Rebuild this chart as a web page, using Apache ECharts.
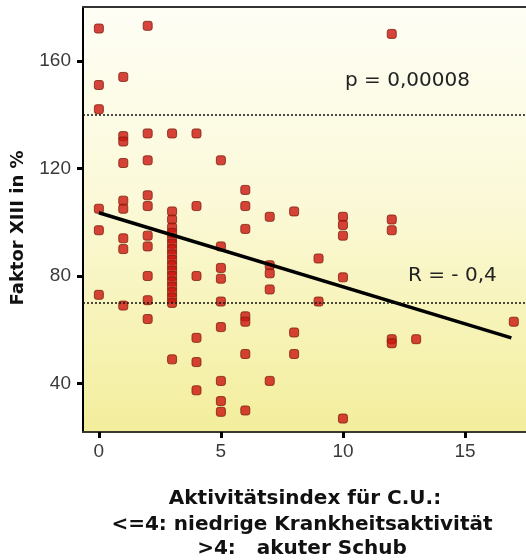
<!DOCTYPE html>
<html>
<head>
<meta charset="utf-8">
<script src="https://cdn.jsdelivr.net/npm/echarts@6/dist/echarts.min.js"></script>
<style>
  html, body { margin: 0; padding: 0; background: #ffffff; }
  #chart { width: 526px; height: 560px; }
</style>
</head>
<body>
<div id="chart"></div>
<script>
// Aktivitätsindex (C.U.) of each patient and the measured Faktor XIII activity in %
const activity = [
  0, 0, 0, 0, 0, 0,
  1, 1, 1, 1, 1, 1, 1, 1, 1,
  2, 2, 2, 2, 2, 2, 2, 2, 2, 2,
  3, 3, 3, 3, 3, 3, 3, 3, 3, 3, 3, 3, 3, 3, 3, 3, 3, 3, 3,
  4, 4, 4, 4, 4, 4,
  5, 5, 5, 5, 5, 5, 5, 5, 5,
  6, 6, 6, 6, 6, 6, 6,
  7, 7, 7, 7, 7,
  8, 8, 8,
  9, 9,
  10, 10, 10, 10, 10,
  12, 12, 12, 12, 12,
  13,
  17
];
const factor = [
  172, 151, 142, 105, 97, 73,
  154, 132, 130, 122, 108, 105, 94, 90, 69,
  173, 133, 123, 110, 106, 95, 91, 80, 71, 64,
  133, 104, 101, 98, 96, 94, 92, 90, 88, 86, 84, 82, 80, 78, 76, 74, 72, 70, 49,
  133, 106, 80, 57, 48, 37.5,
  123, 91, 83, 79, 70.5, 61, 41, 33.5, 29.5,
  112, 106, 97.5, 65, 63, 51, 30,
  102, 84, 81, 75, 41,
  104, 59, 51,
  86.5, 70.5,
  102, 99, 95, 79.5, 27,
  170, 101, 97, 56.5, 55,
  56.5,
  63
];

// Linear regression line (endpoints)
const fitActivity = [0, 16.9];
const fitFactor = [103.5, 57];

// Reference levels shown as dotted lines
const referenceLevels = [140, 70];

// Tick labels
const xTicks = [0, 5, 10, 15];
const yTicks = [40, 80, 120, 160];

const pLabel = 'p = 0,00008';
const rLabel = 'R = - 0,4';
const xTitleLines = ['Aktivitätsindex für C.U.:', '<=4: niedrige Krankheitsaktivität', '>4:   akuter Schub'];
const yTitle = 'Faktor XIII in %';

const chart = echarts.init(document.getElementById('chart'), null, { renderer: 'canvas' });

const points = activity.map((a, i) => [a, factor[i]]);
const fitLine = fitActivity.map((a, i) => [a, fitFactor[i]]);

const tickFont = { fontFamily: 'Liberation Sans, Arial, sans-serif', fontSize: 19, color: '#3a3a3a' };
const titleFont = 'DejaVu Sans, Verdana, sans-serif';

const option = {
  backgroundColor: '#ffffff',
  animation: false,
  grid: {
    left: 83, top: 7, right: 0, bottom: 128,
    show: true,
    borderWidth: 0,
    backgroundColor: new echarts.graphic.LinearGradient(0, 0, 0, 1, [
      { offset: 0, color: '#fefef6' },
      { offset: 0.45, color: '#fbf9d8' },
      { offset: 1, color: '#f3ee9c' }
    ])
  },
  xAxis: [{
    type: 'value',
    min: -0.65, max: 17.5,
    axisLine: { show: true, onZero: false, lineStyle: { color: '#3a3a2a', width: 2 } },
    axisTick: { show: true, length: 6, customValues: xTicks, lineStyle: { color: '#000', width: 3 } },
    axisLabel: Object.assign({ margin: 10, customValues: xTicks }, tickFont),
    splitLine: { show: false }
  }, {
    type: 'value',
    position: 'top',
    min: -0.65, max: 17.5,
    axisLine: { show: true, onZero: false, lineStyle: { color: '#333333', width: 2 } },
    axisTick: { show: false },
    axisLabel: { show: false },
    splitLine: { show: false }
  }],
  yAxis: {
    type: 'value',
    min: 22, max: 180,
    axisLine: { show: true, onZero: false, lineStyle: { color: '#000', width: 2 } },
    axisTick: { show: true, length: 6, customValues: yTicks, lineStyle: { color: '#000', width: 3 } },
    axisLabel: Object.assign({ margin: 12, customValues: yTicks }, tickFont),
    splitLine: { show: false }
  },
  series: [{
    type: 'scatter',
    data: points,
    symbol: 'roundRect',
    symbolSize: 9,
    itemStyle: { color: '#cc140e', borderColor: '#7a200e', borderWidth: 1 },
    markLine: {
      silent: true,
      symbol: 'none',
      label: { show: false },
      lineStyle: { color: '#111', type: [2, 2], width: 1.5 },
      data: referenceLevels.map(v => ({ yAxis: v }))
    },
    z: 3
  }, {
    type: 'line',
    data: fitLine,
    symbol: 'none',
    lineStyle: { color: '#000', width: 3.5 },
    z: 4
  }],
  graphic: [
    {
      type: 'text', left: 345, top: 71,
      style: { text: pLabel, fontFamily: titleFont, fontSize: 20, fill: '#222' }
    },
    {
      type: 'text', left: 408, top: 266,
      style: { text: rLabel, fontFamily: titleFont, fontSize: 20, fill: '#222' }
    },
    {
      type: 'text', x: 18, y: 228, rotation: Math.PI / 2,
      style: { text: yTitle, fontFamily: titleFont, fontWeight: 'bold', fontSize: 18, fill: '#111', align: 'center', verticalAlign: 'middle' }
    },
    {
      type: 'text', x: 305, y: 499,
      style: { text: xTitleLines[0], fontFamily: titleFont, fontWeight: 'bold', fontSize: 20, fill: '#111', align: 'center', verticalAlign: 'middle' }
    },
    {
      type: 'text', x: 302, y: 525,
      style: { text: xTitleLines[1], fontFamily: titleFont, fontWeight: 'bold', fontSize: 20, fill: '#111', align: 'center', verticalAlign: 'middle' }
    },
    {
      type: 'text', x: 302, y: 549,
      style: { text: xTitleLines[2], fontFamily: titleFont, fontWeight: 'bold', fontSize: 20, fill: '#111', align: 'center', verticalAlign: 'middle' }
    }
  ]
};

chart.setOption(option);
</script>
</body>
</html>
